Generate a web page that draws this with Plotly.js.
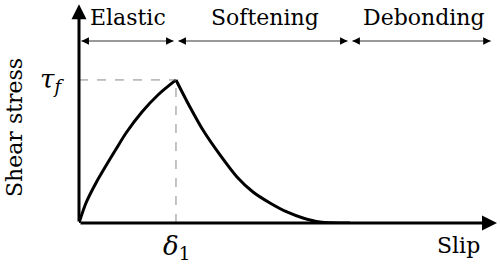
<!DOCTYPE html>
<html>
<head>
<meta charset="utf-8">
<script src="https://cdn.plot.ly/plotly-3.0.1.min.js"></script>
<style>html,body{margin:0;padding:0;background:#fff;}#chart{width:500px;height:269px;}</style>
</head>
<body>
<div id="chart"></div>
<script>
// bond-slip law, slip normalised by delta1, stress by tau_f
const elasticSlip   = [0, 0.072, 0.175, 0.278, 0.381, 0.485, 0.649, 0.814, 1.0];
const elasticStress = [0, 0.14, 0.28, 0.40, 0.515, 0.629, 0.776, 0.895, 1.0];
const softSlip   = [1.0, 1.144, 1.278, 1.454, 1.629, 1.794, 1.969, 2.144, 2.309, 2.485, 2.794];
const softStress = [1.0, 0.811, 0.650, 0.476, 0.322, 0.217, 0.140, 0.077, 0.035, 0.007, 0];
const peakSlip = 1.0, peakStress = 1.0;

const phases = ['Elastic', 'Softening', 'Debonding'];
const phaseStart = [0, 1.0, 2.794];
const phaseEnd = [1.0, 2.794, 4.27];
const phaseLabelX = [0.505, 1.92, 3.56];

const xMax = 4.31, yTop = 1.53, phaseY = 1.273;
const serif = 'DejaVu Serif';

const curve = (x, y) => ({
    x: x, y: y,
    mode: 'lines',
    line: { color: '#000', width: 3, shape: 'spline', smoothing: 0.8 },
    cliponaxis: false,
    hoverinfo: 'skip'
});
const traces = [curve(elasticSlip, elasticStress), curve(softSlip, softStress)];

const shapes = [
    { type: 'line', x0: 0, x1: peakSlip, y0: peakStress, y1: peakStress, line: { color: '#888', width: 1, dash: 'dash' } },
    { type: 'line', x0: peakSlip, x1: peakSlip, y0: 0, y1: peakStress, line: { color: '#888', width: 1, dash: 'dash' } }
];

const ann = [];
// axes with arrow heads
ann.push({ x: 0, y: yTop, ax: 0, ay: 0, axref: 'x', ayref: 'y', xref: 'x', yref: 'y', text: '', showarrow: true, arrowhead: 2, arrowsize: 1, arrowwidth: 3, arrowcolor: '#000' });
ann.push({ x: xMax, y: 0, ax: 0, ay: 0, axref: 'x', ayref: 'y', xref: 'x', yref: 'y', text: '', showarrow: true, arrowhead: 2, arrowsize: 1, arrowwidth: 3, arrowcolor: '#000' });

// phase ranges: grey line with black heads at both ends
phases.forEach((p, i) => {
    const a = phaseStart[i] + 0.025, b = phaseEnd[i] - 0.025;
    shapes.push({ type: 'line', x0: a, x1: b, y0: phaseY, y1: phaseY, line: { color: '#999', width: 2 } });
    ann.push({ x: b, y: phaseY, ax: b - 0.07, ay: phaseY, axref: 'x', ayref: 'y', text: '', showarrow: true, arrowhead: 2, arrowsize: 1, arrowwidth: 1.5, arrowcolor: '#000' });
    ann.push({ x: a, y: phaseY, ax: a + 0.07, ay: phaseY, axref: 'x', ayref: 'y', text: '', showarrow: true, arrowhead: 2, arrowsize: 1, arrowwidth: 1.5, arrowcolor: '#000' });
    ann.push({ x: phaseLabelX[i], y: 1.44, xanchor: 'center', yanchor: 'middle', text: p, showarrow: false, font: { family: serif, size: 22, color: '#000' } });
});

// labels outside the plot area go in paper coordinates
const lbl = (x, y, text, size, angle) => ({
    xref: 'paper', yref: 'paper', x: x, y: y, xanchor: 'center', yanchor: 'middle',
    text: text, showarrow: false,
    textangle: angle || 0, font: { family: serif, size: size, color: '#000' }
});
ann.push(lbl(-0.0646, 0.655, '<i>τ</i><sub><i>f</i></sub>', 26));
ann.push(lbl(0.2344, -0.1106, '<i>δ</i><sub>1</sub>', 26));
ann.push(lbl(0.9067, -0.1014, 'Slip', 22));
ann.push(lbl(-0.1531, 0.4378, 'Shear stress', 22, -90));

const hidden = { showgrid: false, zeroline: false, showticklabels: false, showline: false, ticks: '' };

Plotly.newPlot('chart', traces, {
    width: 500, height: 269,
    margin: { l: 79, r: 3, t: 6, b: 46 },
    paper_bgcolor: '#fff', plot_bgcolor: '#fff',
    font: { family: serif },
    showlegend: false,
    xaxis: Object.assign({}, hidden, { range: [0, xMax] }),
    yaxis: Object.assign({}, hidden, { range: [0, 1.517] }),
    shapes: shapes,
    annotations: ann
}, { staticPlot: true });
</script>
</body>
</html>
